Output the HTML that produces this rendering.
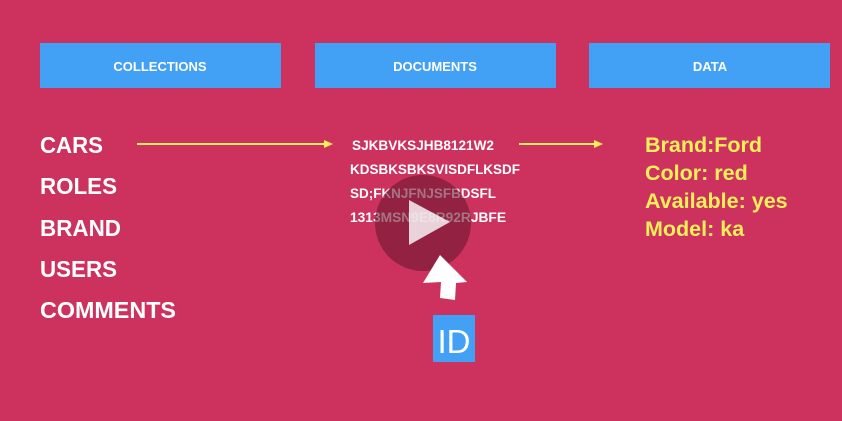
<!DOCTYPE html>
<html><head><style>body{margin:0;background:#cd325e}svg{display:block}</style></head>
<body>
<svg width="842" height="421" viewBox="0 0 842 421" xmlns="http://www.w3.org/2000/svg" font-family="Liberation Sans, Arial, sans-serif" font-weight="bold">
<rect width="842" height="421" fill="#cd325e"/>
<rect x="40" y="43" width="241" height="45" fill="#42a0f5"/>
<rect x="315" y="43" width="241" height="45" fill="#42a0f5"/>
<rect x="589" y="43" width="241" height="45" fill="#42a0f5"/>
<g fill="#fff" font-size="13" text-anchor="middle">
<text x="160" y="71">COLLECTIONS</text>
<text x="435" y="71">DOCUMENTS</text>
<text x="710" y="71">DATA</text>
</g>
<g fill="#fff" font-size="23">
<text x="40" y="153" textLength="63" lengthAdjust="spacingAndGlyphs">CARS</text>
<text x="40" y="194" textLength="77" lengthAdjust="spacingAndGlyphs">ROLES</text>
<text x="40" y="236" textLength="81" lengthAdjust="spacingAndGlyphs">BRAND</text>
<text x="40" y="277" textLength="77" lengthAdjust="spacingAndGlyphs">USERS</text>
<text x="40" y="318" textLength="136" lengthAdjust="spacingAndGlyphs">COMMENTS</text>
</g>
<g stroke="#f5f05a" stroke-width="2" fill="#f5f05a">
<line x1="137" y1="144" x2="326" y2="144"/>
<polygon points="333,144 324,140 324,148" stroke="none"/>
<line x1="519" y1="144" x2="596" y2="144"/>
<polygon points="603,144 594,140 594,148" stroke="none"/>
</g>
<g fill="#fff" font-size="13.5">
<text x="352" y="150" textLength="142" lengthAdjust="spacingAndGlyphs">SJKBVKSJHB8121W2</text>
<text x="350" y="174" textLength="170" lengthAdjust="spacingAndGlyphs">KDSBKSBKSVISDFLKSDF</text>
<text x="350" y="198" textLength="146" lengthAdjust="spacingAndGlyphs">SD;FKNJFNJSFBDSFL</text>
<text x="350" y="222" textLength="156" lengthAdjust="spacingAndGlyphs">1313MSN9E8R92RJBFE</text>
</g>
<g fill="#f5f05a" font-size="21.5">
<text x="645" y="152">Brand:Ford</text>
<text x="645" y="180">Color: red</text>
<text x="645" y="208">Available: yes</text>
<text x="645" y="236">Model: ka</text>
</g>
<circle cx="423" cy="223" r="48" fill="#6b1530" fill-opacity="0.6"/>
<polygon points="409,200 409,245 450,222" fill="#fff" fill-opacity="0.8"/>
<polygon points="440,255 467,282 456,283 455,300 440,298 441,282 423,283" fill="#fff"/>
<rect x="433" y="315" width="42" height="47" fill="#42a0f5"/>
<text x="454" y="353" fill="#fff" font-size="33" font-weight="normal" text-anchor="middle">ID</text>
</svg>
</body></html>
